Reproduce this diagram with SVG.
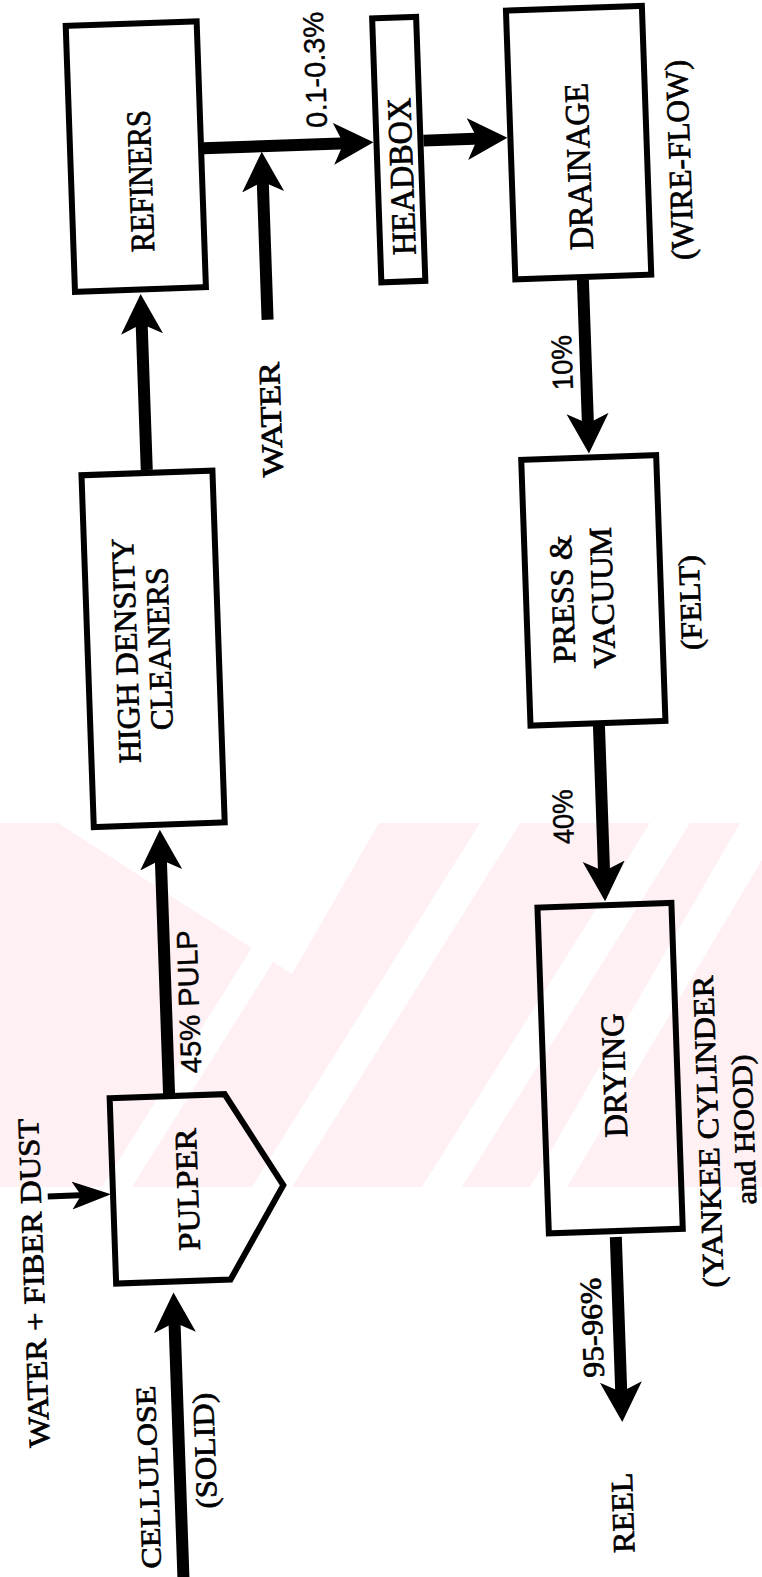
<svg xmlns="http://www.w3.org/2000/svg" width="762" height="1577" viewBox="0 0 762 1577">
<style>
.box{fill:none;stroke:#000;stroke-width:6;stroke-linejoin:miter}
.t{font-family:"Liberation Serif","Times New Roman",serif;fill:#000;stroke:#000;stroke-width:0.7;text-anchor:middle}
.s{font-family:"Liberation Sans",Arial,sans-serif;fill:#000;stroke:#000;stroke-width:0.4;text-anchor:middle}
.c{fill:none;stroke:#000;stroke-width:12}
.cs{fill:none;stroke:#000;stroke-width:6}
</style>
<defs>
<marker id="ah" markerUnits="userSpaceOnUse" viewBox="0 0 44 46" markerWidth="44" markerHeight="46" refX="14" refY="23" orient="auto">
<path d="M40,23 L0,2 L10,23 L0,44 Z" fill="#000"/>
</marker>
<marker id="ahs" markerUnits="userSpaceOnUse" viewBox="0 0 42 32" markerWidth="42" markerHeight="32" refX="14" refY="16" orient="auto">
<path d="M39,16 L0,2 L9,16 L0,30 Z" fill="#000"/>
</marker>
</defs>
<rect width="762" height="1577" fill="#fff"/>
<g id="watermark" fill="#fff">
<rect x="0" y="823" width="762" height="364" fill="#fef0f3"/>
<polygon points="58,823 379,823 292,974"/>
<polygon points="480,823 520,823 292,1187 252,1187"/>
<polygon points="650,823 690,823 462,1187 422,1187"/>
<polygon points="330,823 360,823 132,1187 102,1187"/>
<polygon points="740,823 762,823 762,860 567,1187 530,1187"/>
</g>
<g id="diagram" transform="rotate(-2 381 788)">
<g id="connectors">
<path class="c" d="M158.5,1088 V848" marker-end="url(#ah)"/>
<path class="c" d="M158,462 V312" marker-end="url(#ah)"/>
<path class="c" d="M284,316 V174" marker-end="url(#ah)"/>
<path class="c" d="M226,142.5 H370" marker-end="url(#ah)"/>
<path class="c" d="M446,142.5 H504" marker-end="url(#ah)"/>
<path class="c" d="M600.5,287 V435" marker-end="url(#ah)"/>
<path class="c" d="M601,731 V883" marker-end="url(#ah)"/>
<path class="c" d="M600,1245 V1404" marker-end="url(#ah)"/>
<path class="c" d="M156,1620 V1311" marker-end="url(#ah)"/>
<path class="cs" d="M33.7,1184.5 H72" marker-end="url(#ahs)"/>
</g>
<g id="refiners">
<rect class="box" x="92.5" y="15.4" width="131" height="266"/>
<text class="t" font-size="34" textLength="142" lengthAdjust="spacingAndGlyphs" transform="translate(173.2,173) rotate(-90)">REFINERS</text>
</g>
<g id="high-density-cleaners">
<rect class="box" x="92.6" y="465" width="131" height="352"/>
<text class="t" font-size="32" textLength="225" lengthAdjust="spacingAndGlyphs" transform="translate(141.8,642) rotate(-90)">HIGH DENSITY</text>
<text class="t" font-size="32" textLength="163" lengthAdjust="spacingAndGlyphs" transform="translate(174.9,641.1) rotate(-90)">CLEANERS</text>
</g>
<g id="headbox">
<rect class="box" x="399" y="18.6" width="44" height="264"/>
<text class="t" font-size="34" textLength="157" lengthAdjust="spacingAndGlyphs" transform="translate(434.3,177.6) rotate(-90)">HEADBOX</text>
</g>
<g id="drainage">
<rect class="box" x="533" y="15.4" width="136" height="269"/>
<text class="t" font-size="34" textLength="167" lengthAdjust="spacingAndGlyphs" transform="translate(611.7,173.8) rotate(-90)">DRAINAGE</text>
<text class="t" font-size="32" textLength="200" lengthAdjust="spacingAndGlyphs" transform="translate(711.9,170.8) rotate(-90)">(WIRE-FLOW)</text>
</g>
<g id="press-vacuum">
<rect class="box" x="532.6" y="464.9" width="135" height="266"/>
<text class="t" font-size="32" textLength="128" lengthAdjust="spacingAndGlyphs" transform="translate(579.6,605.7) rotate(-90)">PRESS &amp;</text>
<text class="t" font-size="32" textLength="141" lengthAdjust="spacingAndGlyphs" transform="translate(619.6,605.6) rotate(-90)">VACUUM</text>
<text class="t" font-size="30" textLength="95" lengthAdjust="spacingAndGlyphs" transform="translate(706.5,613.6) rotate(-90)">(FELT)</text>
</g>
<g id="drying">
<rect class="box" x="533.2" y="913" width="134" height="326"/>
<text class="t" font-size="33" textLength="124" lengthAdjust="spacingAndGlyphs" transform="translate(615,1083.5) rotate(-90)">DRYING</text>
<text class="t" font-size="30" textLength="312" lengthAdjust="spacingAndGlyphs" transform="translate(706,1142.8) rotate(-90)">(YANKEE CYLINDER</text>
<text class="t" font-size="29" textLength="150" lengthAdjust="spacingAndGlyphs" transform="translate(741.5,1142.2) rotate(-90)">and HOOD)</text>
</g>
<g id="pulper">
<polygon class="box" points="99,1088.5 214,1088.5 269.5,1181.5 213.5,1274 99,1274"/>
<text class="t" font-size="31" textLength="122" lengthAdjust="spacingAndGlyphs" transform="translate(184,1182.6) rotate(-90)">PULPER</text>
</g>
<g id="labels">
<text class="t" font-size="30" textLength="115" lengthAdjust="spacingAndGlyphs" transform="translate(293.9,416) rotate(-90)">WATER</text>
<text class="s" font-size="29" textLength="116" lengthAdjust="spacingAndGlyphs" transform="translate(350.1,68) rotate(-90)">0.1-0.3%</text>
<text class="s" font-size="29" textLength="55" lengthAdjust="spacingAndGlyphs" transform="translate(586.9,369.2) rotate(-90)">10%</text>
<text class="s" font-size="29" textLength="55" lengthAdjust="spacingAndGlyphs" transform="translate(572,823.2) rotate(-90)">40%</text>
<text class="t" font-size="30" textLength="100" lengthAdjust="spacingAndGlyphs" transform="translate(583.2,1334.7) rotate(-90)">95-96%</text>
<text class="t" font-size="31" textLength="80" lengthAdjust="spacingAndGlyphs" transform="translate(607.7,1520.8) rotate(-90)">REEL</text>
<text class="s" font-size="29" textLength="143" lengthAdjust="spacingAndGlyphs" transform="translate(191.6,995.1) rotate(-90)">45% PULP</text>
<text class="t" font-size="30" textLength="329" lengthAdjust="spacingAndGlyphs" transform="translate(26.7,1270.7) rotate(-90)">WATER + FIBER DUST</text>
<text class="t" font-size="28" textLength="183" lengthAdjust="spacingAndGlyphs" transform="translate(134,1468.7) rotate(-90)">CELLULOSE</text>
<text class="t" font-size="30" textLength="116" lengthAdjust="spacingAndGlyphs" transform="translate(191.9,1444.2) rotate(-90)">(SOLID)</text>
</g>
</g>
</svg>
